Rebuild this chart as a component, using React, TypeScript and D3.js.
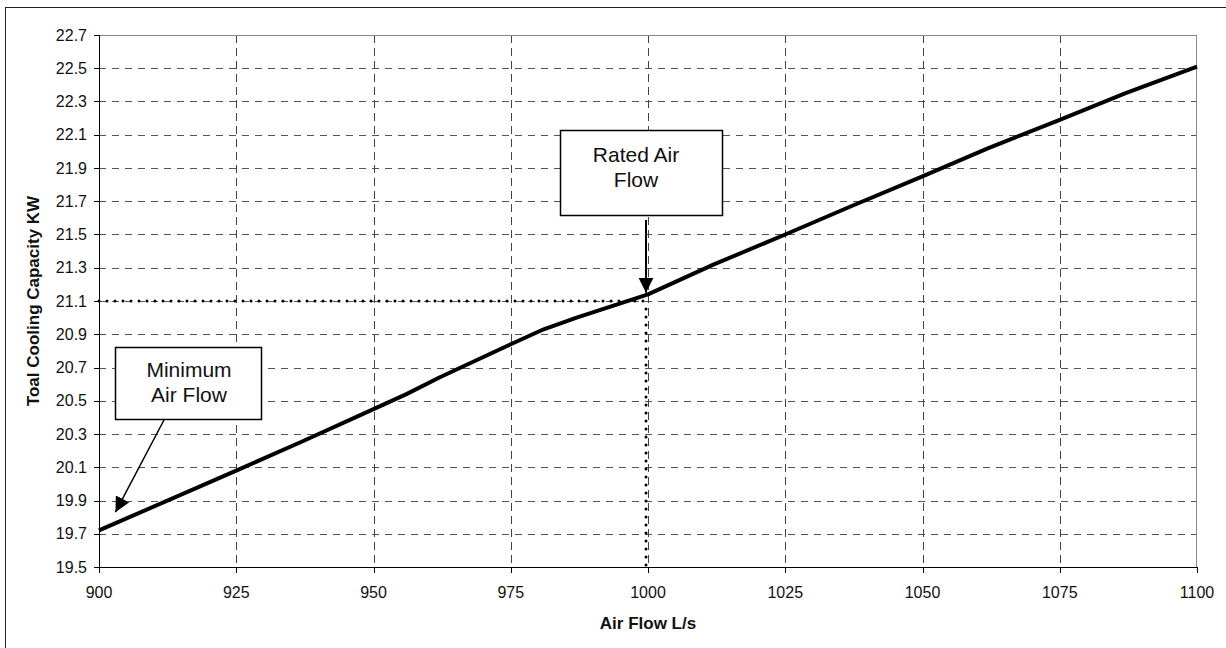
import React from 'react';
import * as d3 from 'd3';

// air flow (L/s) vs total cooling capacity (kW)
const airFlow = [900, 925, 937, 950, 956, 962, 975, 981, 987, 1000, 1012, 1025, 1037, 1050, 1062, 1075, 1087, 1100];
const capacity = [19.72, 20.08, 20.255, 20.45, 20.54, 20.64, 20.84, 20.93, 21.0, 21.14, 21.32, 21.5, 21.67, 21.85, 22.02, 22.19, 22.35, 22.51];

const xTicks = [900, 925, 950, 975, 1000, 1025, 1050, 1075, 1100];
const yTicks = d3.range(19.5, 22.71, 0.2).map(v => +v.toFixed(1));

const ratedFlow = 1000;
const ratedCapacity = 21.1;
const minFlow = 903;
const minCapacity = 19.83;

const W = 1226;
const H = 648;
const margin = { left: 99, top: 35, right: 29, bottom: 81 };
const FONT = '"Liberation Sans", Arial, sans-serif';

const App = () => {
  const x = d3.scaleLinear().domain([900, 1100]).range([margin.left, W - margin.right]);
  const y = d3.scaleLinear().domain([19.5, 22.7]).range([H - margin.bottom, margin.top]);

  const line = d3.line<number>()
    .x((d, i) => x(airFlow[i]))
    .y(d => y(d));

  const x0 = x(900);
  const x1 = x(1100);
  const y0 = y(19.5);
  const y1 = y(22.7);

  // annotation boxes
  const rated = { x: 560, y: 130, w: 162, h: 85 };
  const minimum = { x: 115, y: 347, w: 146, h: 72 };

  const ratedTipX = x(ratedFlow) - 2;
  const ratedTipY = y(21.15);
  const minTipX = x(minFlow);
  const minTipY = y(minCapacity);

  return (
    <svg width={W} height={H} style={{ position: 'absolute', left: 0, top: 0, fontFamily: FONT }}>
      <defs>
        <marker id="arrow" viewBox="0 0 10 10" refX="10" refY="5" markerWidth="15" markerHeight="15" markerUnits="userSpaceOnUse" orient="auto">
          <path d="M0,0 L10,5 L0,10 Z" fill="#000" />
        </marker>
      </defs>
      <rect x={5.5} y={7.5} width={W} height={H} fill="#fff" stroke="#222" strokeWidth={1} />

      {/* grid */}
      {yTicks.filter(v => v > 19.5 && v < 22.7).map(v => (
        <line key={'gy' + v} x1={x0} x2={x1} y1={Math.round(y(v)) + 0.5} y2={Math.round(y(v)) + 0.5}
          stroke="#555" strokeDasharray="7,6" />
      ))}
      {xTicks.filter(v => v > 900 && v < 1100).map(v => (
        <line key={'gx' + v} x1={Math.round(x(v)) + 0.5} x2={Math.round(x(v)) + 0.5} y1={y1} y2={y0}
          stroke="#444" strokeDasharray="8,5" />
      ))}
      <line x1={x0} x2={x1} y1={y1 + 0.5} y2={y1 + 0.5} stroke="#888" />
      <line x1={x1 - 0.5} x2={x1 - 0.5} y1={y1} y2={y0} stroke="#888" />

      {/* axes */}
      <line x1={x0 + 0.5} x2={x0 + 0.5} y1={y1} y2={y0} stroke="#000" />
      <line x1={x0} x2={x1} y1={y0 + 0.5} y2={y0 + 0.5} stroke="#000" />
      {yTicks.map(v => (
        <g key={'ty' + v}>
          <line x1={x0 - 5} x2={x0} y1={Math.round(y(v)) + 0.5} y2={Math.round(y(v)) + 0.5} stroke="#000" />
          <text x={x0 - 12} y={y(v)} dy="0.35em" textAnchor="end" fontSize={16} fill="#111">{v.toFixed(1)}</text>
        </g>
      ))}
      {xTicks.map(v => (
        <g key={'tx' + v}>
          <line x1={Math.round(x(v)) + 0.5} x2={Math.round(x(v)) + 0.5} y1={y0} y2={y0 + 6} stroke="#000" />
          <text x={x(v)} y={y0 + 31} textAnchor="middle" fontSize={16} fill="#111">{v}</text>
        </g>
      ))}
      <text x={(x0 + x1) / 2} y={629} textAnchor="middle" fontSize={17} fontWeight="bold" fill="#111">Air Flow  L/s</text>
      <text transform={`translate(39,${(y0 + y1) / 2}) rotate(-90)`} textAnchor="middle" fontSize={17} fontWeight="bold" fill="#111">Toal Cooling Capacity KW</text>

      {/* rated air flow guides */}
      <line x1={x0} x2={ratedTipX} y1={y(ratedCapacity)} y2={y(ratedCapacity)} stroke="#000" strokeWidth={3}
        strokeDasharray="0,8" strokeLinecap="round" />
      <line x1={ratedTipX} x2={ratedTipX} y1={y(ratedCapacity) + 8} y2={y0 + 4} stroke="#000" strokeWidth={3}
        strokeDasharray="0,8" strokeLinecap="round" />

      {/* data line */}
      <path d={line(capacity) || ''} fill="none" stroke="#000" strokeWidth={4} strokeLinejoin="round" />

      {/* annotations */}
      <rect x={rated.x + 0.5} y={rated.y + 0.5} width={rated.w} height={rated.h} fill="#fff" stroke="#000" strokeWidth={1.5} />
      <text x={rated.x + rated.w / 2 - 5} y={rated.y + 32} textAnchor="middle" fontSize={21} fill="#111">Rated Air</text>
      <text x={rated.x + rated.w / 2 - 5} y={rated.y + 57} textAnchor="middle" fontSize={21} fill="#111">Flow</text>
      <line x1={ratedTipX} x2={ratedTipX} y1={rated.y + rated.h + 5} y2={ratedTipY} stroke="#000" strokeWidth={2} markerEnd="url(#arrow)" />

      <rect x={minimum.x + 0.5} y={minimum.y + 0.5} width={minimum.w} height={minimum.h} fill="#fff" stroke="#000" strokeWidth={1.5} />
      <text x={minimum.x + minimum.w / 2 + 1} y={minimum.y + 30} textAnchor="middle" fontSize={21} fill="#111">Minimum</text>
      <text x={minimum.x + minimum.w / 2 + 1} y={minimum.y + 55} textAnchor="middle" fontSize={21} fill="#111">Air Flow</text>
      <line x1={minimum.x + 49} x2={minTipX} y1={minimum.y + minimum.h + 1} y2={minTipY} stroke="#000" strokeWidth={1.5} markerEnd="url(#arrow)" />
    </svg>
  );
};

export default App;
